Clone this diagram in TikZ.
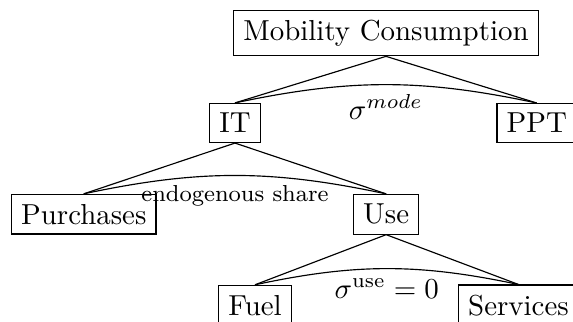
\documentclass[tikz,border=0pt]{standalone}
\begin{document}
\tikzset{
  box/.style={draw, rectangle, inner sep=3.33pt},
  link/.style={draw},
  elab/.style={midway, below},
}
\begin{tikzpicture}
\useasboundingbox (0,0) rectangle (198.27pt,-111.42pt);
\clip (0,0) rectangle (198.27pt,-111.42pt);
\node[box] (mc)  at (133.56pt,-11.42pt) {Mobility Consumption};
\node[box] (it)  at (81.31pt,-42.56pt) {IT};
\node[box] (ppt) at (185.74pt,-42.60pt) {PPT};
\node[box] (pur) at (29.0pt,-74.12pt) {Purchases};
\node[box] (use) at (133.63pt,-74.15pt) {Use};
\node[box] (fuel) at (88.24pt,-105.6pt) {Fuel};
\node[box] (serv) at (179.4pt,-105.6pt) {Services};

\draw[link] (mc.south) -- (it.north);
\draw[link] (mc.south) -- (ppt.north);
\draw[link] (it.north) to[bend left=12] node[elab] {$\sigma^{mode}$} (ppt.north);

\draw[link] (it.south) -- (pur.north);
\draw[link] (it.south) -- (use.north);
\draw[link] (pur.north) to[bend left=12] node[elab, font=\footnotesize] {endogenous share} (use.north);

\draw[link] (use.south) -- (fuel.north);
\draw[link] (use.south) -- (serv.north);
\draw[link] (fuel.north) to[bend left=12] node[elab] {$\sigma^{\mathrm{use}}=0$} (serv.north);
\end{tikzpicture}
\end{document}
